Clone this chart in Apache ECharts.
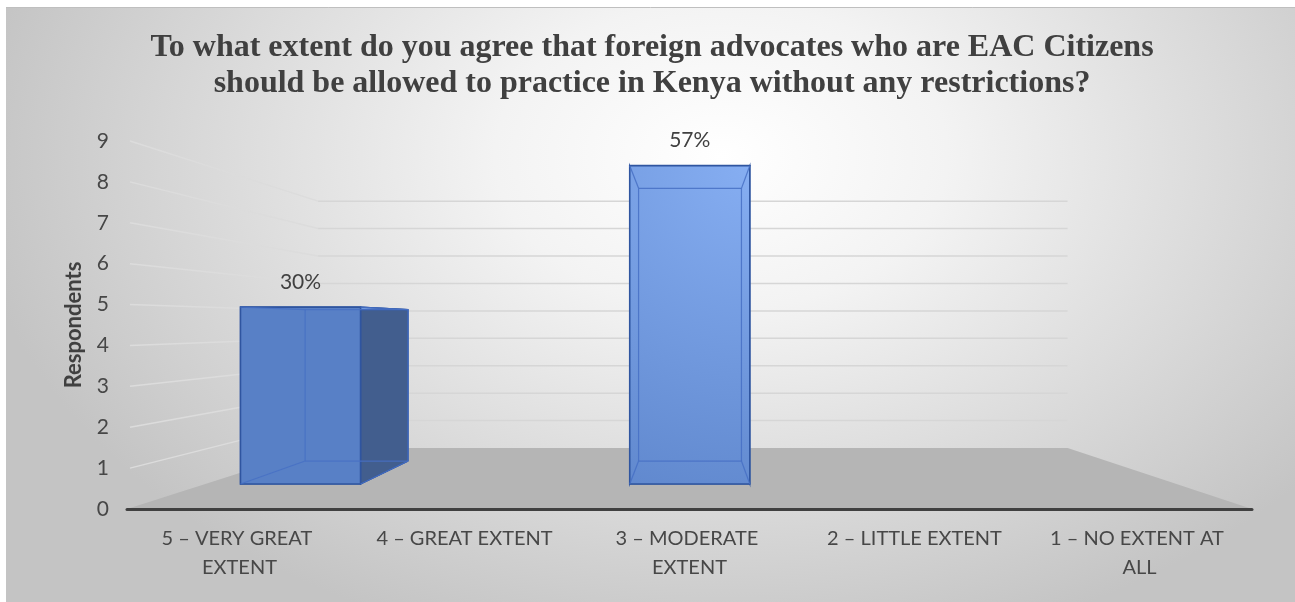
<!DOCTYPE html>
<html>
<head>
<meta charset="utf-8">
<script src="https://cdn.jsdelivr.net/npm/echarts@6/dist/echarts.min.js"></script>
<style>
html,body{margin:0;padding:0;background:#ffffff;}
#chart{width:1295px;height:602px;}
</style>
</head>
<body>
<div id="chart"></div>
<script>
// ---------- data ----------
const categories = ['5 – VERY GREAT EXTENT', '4 – GREAT EXTENT', '3 – MODERATE EXTENT', '2 – LITTLE EXTENT', '1 – NO EXTENT AT ALL'];
const respondents = [5, 0, 9, 0, 0];
const percentLabels = ['30%', '', '57%', '', ''];
const yTicks = [0, 1, 2, 3, 4, 5, 6, 7, 8, 9];
const titleLines = [
  'To what extent do you agree that foreign advocates who are EAC Citizens',
  'should be allowed to practice in Kenya without any restrictions?'
];
const yAxisTitle = 'Respondents';

// ---------- 3D look (perspective) ----------
const S_WALL = 0.671;       // scale of the back wall plane
const S_BAR_FRONT = 0.865;  // scale of the bars' front faces
const S_BAR_BACK = 0.741;   // scale of the bars' back faces
const HORIZON_VALUE = 4.53; // eye height, in axis units
const BAR_FRACTION = 0.617; // bar width as part of a category band
const VP_INDEX = Math.floor(categories.length / 2);
const VP_SHIFT = 2;

function persp(api) {
  const vx = api.coord([VP_INDEX, 0])[0] + VP_SHIFT;
  const hy = api.coord([VP_INDEX, HORIZON_VALUE])[1];
  return function (p, s) { return [vx + (p[0] - vx) * s, hy + (p[1] - hy) * s]; };
}

function renderFloor(params, api) {
  const P = persp(api);
  const cs = params.coordSys;
  const y0 = api.coord([0, 0])[1];
  const fl = [cs.x, y0], fr = [cs.x + cs.width, y0];
  return {
    type: 'polygon',
    shape: { points: [fl, fr, P(fr, S_WALL), P([cs.x + 8, y0], S_WALL)] },
    style: { fill: '#b5b5b5' }
  };
}

function renderWalls(params, api) {
  const v = api.value(1);
  if (v === 0) return { type: 'group', children: [] };
  const P = persp(api);
  const cs = params.coordSys;
  const y0 = api.coord([0, v])[1];
  const fl = [cs.x + 3, y0], fr = [cs.x + cs.width, y0];
  const bl = P([cs.x + 8, y0], S_WALL), br = P(fr, S_WALL);
  return {
    type: 'group',
    children: [
      { type: 'polyline', shape: { points: [fl, bl] }, style: { stroke: '#dcdcdc', lineWidth: 1.5, fill: null } },
      { type: 'polyline', shape: { points: [bl, br] }, style: { stroke: '#d6d6d6', lineWidth: 1.5, fill: null } }
    ]
  };
}

function renderBar(params, api) {
  const i = api.value(0), v = api.value(1);
  if (!v) return { type: 'group', children: [] };
  const P = persp(api);
  const base = api.coord([i, 0]);
  const topPt = api.coord([i, v]);
  const bw = api.size([1, 0])[0] * BAR_FRACTION;
  const xl = base[0] - bw / 2, xr = base[0] + bw / 2;
  const F = { tl: P([xl, topPt[1]], S_BAR_FRONT), tr: P([xr, topPt[1]], S_BAR_FRONT), br: P([xr, base[1]], S_BAR_FRONT), bl: P([xl, base[1]], S_BAR_FRONT) };
  const B = { tl: P([xl, topPt[1]], S_BAR_BACK), tr: P([xr, topPt[1]], S_BAR_BACK), br: P([xr, base[1]], S_BAR_BACK), bl: P([xl, base[1]], S_BAR_BACK) };

  // highlight centred on the tallest bar's front top-right corner
  const maxV = Math.max.apply(null, respondents);
  const mi = respondents.indexOf(maxV);
  const mb = api.coord([mi, 0]), mt = api.coord([mi, maxV]);
  const hl = P([mb[0] + bw / 2, mt[1]], S_BAR_FRONT);
  const frontFill = {
    type: 'radial', x: hl[0], y: hl[1], r: 420, global: true,
    colorStops: [{ offset: 0, color: '#86aef2' }, { offset: 1, color: '#5880c6' }]
  };
  const edge = '#2f55a0';
  const hidden = 'rgba(70,112,196,0.85)';
  const line = (a, b) => ({ type: 'line', shape: { x1: a[0], y1: a[1], x2: b[0], y2: b[1] }, style: { stroke: hidden, lineWidth: 1.2 } });
  const children = [
    { type: 'polygon', shape: { points: [B.tl, B.tr, B.br, B.bl] }, style: { fill: '#5a82c8', stroke: edge, lineWidth: 1 } },
    { type: 'polygon', shape: { points: [F.bl, F.br, B.br, B.bl] }, style: { fill: '#5a80c4', stroke: edge, lineWidth: 1 } },
    { type: 'polygon', shape: { points: [F.tl, B.tl, B.bl, F.bl] }, style: { fill: '#425e8e', stroke: edge, lineWidth: 1.2 } },
    { type: 'polygon', shape: { points: [F.tr, B.tr, B.br, F.br] }, style: { fill: '#425e8e', stroke: edge, lineWidth: 1.2 } },
    { type: 'polygon', shape: { points: [F.tl, F.tr, B.tr, B.tl] }, style: { fill: '#6f97dc', stroke: edge, lineWidth: 1.2 } },
    { type: 'polygon', shape: { points: [F.tl, F.tr, F.br, F.bl] }, style: { fill: frontFill, stroke: edge, lineWidth: 1.6 } },
    line(B.tl, B.tr), line(B.tr, B.br), line(B.br, B.bl), line(B.bl, B.tl),
    line(F.tl, B.tl), line(F.tr, B.tr), line(F.br, B.br), line(F.bl, B.bl),
    {
      type: 'text',
      style: {
        text: percentLabels[i], x: (F.tl[0] + F.tr[0]) / 2, y: Math.min(F.tl[1], B.tl[1]) - 25,
        align: 'center', verticalAlign: 'middle',
        font: '21px Lato', fill: '#404040'
      }
    }
  ];
  return { type: 'group', children: children };
}

const chart = echarts.init(document.getElementById('chart'), null, { renderer: 'canvas' });
chart.setOption({
  animation: false,
  backgroundColor: '#ffffff',
  textStyle: { fontFamily: 'Lato' },
  graphic: [
    {
      type: 'rect', x: 6, y: 7, z: -10,
      scaleX: 1289 / 1000, scaleY: 595 / 680,
      shape: { x: 0, y: 0, width: 1000, height: 680 },
      style: {
        fill: {
          type: 'radial', x: 0.555, y: 0.25, r: 0.86,
          colorStops: [
            { offset: 0, color: '#ffffff' },
            { offset: 0.3, color: '#f3f3f3' },
            { offset: 1, color: '#c4c4c4' }
          ]
        }
      }
    },
    {
      type: 'line', z: -9,
      shape: { x1: 6, y1: 7.5, x2: 1295, y2: 7.5 },
      style: { stroke: '#bfbfbf', lineWidth: 1 }
    },
    {
      type: 'text', x: 652, y: 30, z: 10,
      style: {
        text: titleLines.join('\n'),
        font: 'bold 32px "Liberation Serif"',
        fill: '#404040', align: 'center', verticalAlign: 'top', lineHeight: 36
      }
    }
  ],
  grid: { left: 127, right: 43, top: 141, bottom: 93, containLabel: false },
  xAxis: {
    type: 'category',
    data: categories,
    z: 5,
    axisLine: { show: true, lineStyle: { color: '#404040', width: 3 } },
    axisTick: { show: false },
    axisLabel: {
      interval: 0, color: '#474747', fontFamily: 'Lato', fontSize: 20,
      margin: 15, lineHeight: 29, width: 196, overflow: 'break'
    },
    splitLine: { show: false }
  },
  yAxis: {
    type: 'value', min: 0, max: 9, interval: 1,
    name: yAxisTitle, nameLocation: 'middle', nameRotate: 90, nameGap: 42,
    nameTextStyle: { color: '#404040', fontFamily: 'Lato', fontWeight: 'bold', fontSize: 22 },
    axisLine: { show: false }, axisTick: { show: false },
    axisLabel: { color: '#474747', fontFamily: 'Lato', fontSize: 21, margin: 18 },
    splitLine: { show: false }
  },
  series: [
    { type: 'custom', name: 'floor', z: 1, renderItem: renderFloor, data: [[0, 0]], silent: true },
    { type: 'custom', name: 'walls', z: 2, renderItem: renderWalls, data: yTicks.map(v => [0, v]), silent: true },
    { type: 'custom', name: 'Respondents', z: 3, renderItem: renderBar, data: respondents.map((v, i) => [i, v]) }
  ]
});
</script>
</body>
</html>
